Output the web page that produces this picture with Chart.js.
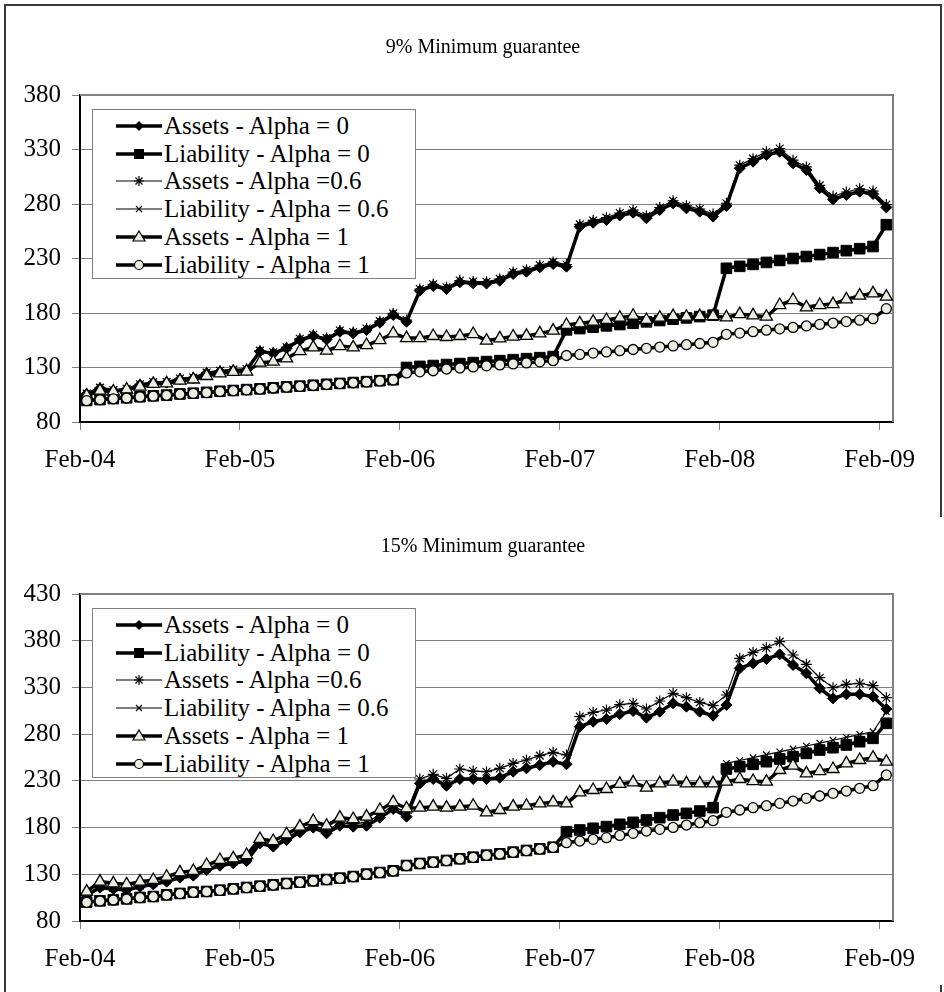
<!DOCTYPE html>
<html><head><meta charset="utf-8">
<script src="https://cdn.jsdelivr.net/npm/chart.js@4.4.1/dist/chart.umd.min.js"></script>
<style>
html,body{margin:0;padding:0;background:#fff;overflow:hidden;width:944px;height:992px;position:relative;}
.wrap{position:absolute;left:0;width:944px;height:499px;}
.frame{position:absolute;background:#3a3a3a;}
.legend{position:absolute;left:92px;top:109px;width:322px;height:168px;border:1px solid #808080;background:#fff;font-family:"Liberation Serif",serif;font-size:25px;color:#000;}
.row{position:absolute;left:0;width:320px;height:28px;line-height:28px;white-space:nowrap;}
.row svg{position:absolute;left:22px;top:0;}
.row span{position:absolute;left:71px;top:0;}
</style></head>
<body>
<div class="frame" style="left:4px;top:4px;width:2px;height:988px"></div>
<div class="frame" style="left:4px;top:4px;width:938px;height:2px"></div>
<div class="frame" style="left:940px;top:4px;width:2px;height:513px"></div>
<div class="frame" style="left:940px;top:985px;width:2px;height:7px"></div>

<div class="wrap" style="top:0"><canvas id="c9" width="944" height="499"></canvas><div class="legend" id="lg9"></div></div>
<div class="wrap" style="top:499px"><canvas id="c15" width="944" height="499"></canvas><div class="legend" id="lg15"></div></div>

<script>
// ---- data ----
const months = ['Feb-04','Feb-05','Feb-06','Feb-07','Feb-08','Feb-09'];
const seriesNames = ['Assets - Alpha = 0','Liability - Alpha = 0','Assets - Alpha =0.6','Liability - Alpha = 0.6','Assets - Alpha = 1','Liability - Alpha = 1'];
const titles = ['9% Minimum guarantee','15% Minimum guarantee'];
const yTicks9 = [80,130,180,230,280,330,380];
const yTicks15 = [80,130,180,230,280,330,380,430];

// 9% chart
const assetsA0_9 = [105.7,110.9,108.7,109.9,114.0,116.1,116.1,119.2,120.1,124.7,126.3,127.2,
 127.8,144.6,143.0,147.6,155.2,158.9,155.8,162.8,161.3,164.4,171.1,178.2,
 172.0,200.5,204.8,202.0,208.2,207.2,207.0,209.6,215.8,217.9,221.9,225.0,
 222.5,259.2,262.8,265.3,269.5,272.0,266.9,274.5,280.6,276.0,273.0,268.4,
 278.2,312.8,318.8,325.0,328.0,317.3,311.2,294.4,284.3,288.3,291.3,289.2,
 276.9];
const liabA0_9 = [99.8,100.6,101.5,102.2,103.2,104.0,104.7,105.7,106.4,107.2,108.2,108.9,
 109.7,110.4,111.4,112.2,112.9,113.7,114.6,115.4,116.2,117.0,117.9,118.8,
 130.0,131.0,131.8,132.7,133.6,134.5,135.4,136.3,137.2,138.1,139.0,140.0,
 164.5,165.7,167.0,168.2,169.4,170.6,171.9,173.1,174.3,175.5,176.7,178.0,
 221.0,222.8,224.6,226.4,228.2,230.0,231.8,233.6,235.4,237.2,239.0,241.0,
 261.0];
const assetsA06_9 = [106.2,111.5,109.2,110.5,114.6,116.7,116.8,119.9,120.8,125.4,127.0,128.0,
 128.6,145.5,144.0,148.6,156.3,160.0,157.0,164.0,162.6,165.7,172.5,179.6,
 173.5,202.0,206.3,203.6,209.8,208.9,208.7,211.3,217.6,219.7,223.8,226.9,
 224.5,261.3,264.9,267.5,271.7,274.3,269.2,276.8,283.0,278.4,275.4,270.8,
 280.7,315.6,321.6,327.9,330.9,320.2,314.0,297.1,287.0,291.0,294.0,291.9,
 279.5];
const liabA06_9 = [99.8,100.6,101.5,102.2,103.2,104.0,104.7,105.7,106.4,107.2,108.2,108.9,
 109.7,110.4,111.4,112.2,112.9,113.7,114.6,115.4,116.2,117.0,117.9,118.8,
 130.0,131.0,131.8,132.7,133.6,134.5,135.4,136.3,137.2,138.1,139.0,140.0,
 164.5,165.7,167.0,168.2,169.4,170.6,171.9,173.1,174.3,175.5,176.7,178.0,
 221.0,222.8,224.6,226.4,228.2,230.0,231.8,233.6,235.4,237.2,239.0,241.0,
 261.0];
const assetsA1_9 = [104.2,108.7,108.0,109.8,112.4,114.9,115.5,117.9,119.0,122.2,124.7,125.9,
 126.3,134.4,135.3,138.4,145.1,148.5,145.4,149.7,148.5,150.6,155.2,161.3,
 157.0,157.0,158.9,158.0,158.9,160.7,154.6,156.7,158.4,159.0,161.3,163.8,
 169.0,170.5,172.0,173.6,175.7,177.5,173.6,175.7,177.2,176.6,177.2,177.2,
 176.0,179.0,177.8,176.6,187.3,191.9,185.2,187.3,188.2,192.5,195.9,198.0,
 195.0];
const liabA1_9 = [99.6,100.4,101.3,102.0,103.0,103.8,104.5,105.5,106.2,107.0,108.0,108.7,
 109.5,110.2,111.2,112.0,112.7,113.5,114.4,115.2,116.0,116.8,117.7,118.6,
 125.0,126.0,127.0,128.6,129.5,130.5,131.5,132.4,133.3,134.2,135.2,136.3,
 141.0,142.0,143.2,144.3,145.4,146.5,147.6,148.7,149.8,150.9,152.0,153.1,
 160.4,161.6,162.9,164.2,165.5,166.8,168.1,169.5,170.8,172.1,173.4,174.8,
 184.0];

// 15% chart
const assetsA0_15 = [107.8,115.7,114.2,113.2,116.7,119.2,122.1,126.4,128.5,134.6,139.2,141.7,
 144.2,163.1,159.6,166.7,174.9,179.9,173.8,182.0,181.0,182.0,190.6,199.9,
 191.7,227.3,232.0,224.8,232.0,232.0,232.0,233.4,239.8,243.4,247.0,250.5,
 247.7,288.0,293.3,296.2,301.4,304.8,297.6,304.0,313.0,309.4,304.0,299.8,
 311.2,350.4,355.8,360.4,365.4,354.0,345.1,329.0,318.3,322.6,322.6,320.1,
 306.9];
const liabA0_15 = [100.2,101.6,102.7,103.7,105.2,106.2,108.0,109.5,110.9,111.6,113.0,114.4,
 115.9,117.3,118.7,120.2,121.6,123.0,124.4,125.9,127.6,130.2,131.9,133.7,
 139.4,141.6,143.0,144.8,146.6,148.3,150.5,151.9,153.7,155.5,157.2,159.0,
 175.6,177.4,179.2,181.0,183.5,185.6,188.1,190.6,193.4,195.2,197.7,201.3,
 242.7,245.2,247.7,250.5,253.4,255.9,259.4,263.0,265.5,268.4,271.9,275.5,
 291.6];
const assetsA06_15 = [108.5,117.0,115.5,114.5,118.0,120.5,123.5,128.0,130.0,136.5,141.0,143.5,
 146.0,165.5,162.0,169.0,177.5,182.5,176.5,185.0,184.0,185.5,194.0,203.5,
 195.5,232.0,237.0,232.7,242.7,240.5,239.8,243.4,248.7,252.3,257.0,260.5,
 257.7,298.7,303.4,305.8,311.5,313.0,306.9,315.5,323.7,319.0,314.0,310.5,
 321.9,361.1,367.5,372.5,379.0,364.7,354.7,340.4,329.7,333.3,334.4,331.9,
 319.0];
const liabA06_15 = [100.2,101.6,102.7,103.7,105.2,106.2,108.0,109.5,110.9,111.6,113.0,114.4,
 115.9,117.3,118.7,120.2,121.6,123.0,124.4,125.9,127.6,130.2,131.9,133.7,
 139.4,141.6,143.0,144.8,146.6,148.3,150.5,151.9,153.7,155.5,157.2,159.0,
 175.6,177.4,179.2,181.0,183.5,185.6,188.1,190.6,193.4,195.2,197.7,201.3,
 248.7,251.8,254.9,258.0,261.1,264.2,267.3,270.4,273.5,276.6,279.7,282.6,
 304.0];
const assetsA1_15 = [111.4,122.1,120.3,119.2,122.1,123.9,127.4,132.1,133.5,139.9,145.3,147.1,
 150.6,167.8,165.6,172.8,181.0,187.0,182.0,190.6,189.0,191.7,198.8,207.0,
 200.6,201.3,202.4,201.3,202.4,203.4,196.3,198.8,202.4,203.4,205.9,207.0,
 205.9,217.7,220.2,221.3,226.8,228.4,222.7,227.3,229.1,227.3,227.3,227.3,
 229.1,232.0,229.8,229.1,241.6,246.2,238.0,240.5,242.7,248.7,252.3,254.8,
 250.5];
const liabA1_15 = [100.0,101.4,102.5,103.5,105.0,106.0,107.8,109.3,110.7,111.4,112.8,114.2,
 115.7,117.1,118.5,120.0,121.4,122.8,124.2,125.7,127.4,130.0,131.7,133.5,
 139.2,141.4,142.8,144.6,146.4,148.1,150.3,151.7,153.5,155.3,157.0,158.8,
 163.8,165.6,167.4,169.2,171.6,173.8,176.3,178.1,180.2,182.7,185.2,187.4,
 196.3,198.8,201.3,203.4,205.9,208.4,211.3,213.8,216.6,219.1,222.0,224.8,
 236.3];

// ---- styles ----
const LIGHT = '#ecece0';
const styles = [
  {borderWidth:3.5, pointStyle:'rectRot', pointRadius:5.5, bg:'#000', pbw:1},
  {borderWidth:3.5, pointStyle:'rect', pointRadius:7.5, bg:'#000', pbw:1},
  {borderWidth:1.2, pointStyle:'star', pointRadius:5.5, bg:'#000', pbw:1.2},
  {borderWidth:1.2, pointStyle:'crossRot', pointRadius:4.5, bg:'#000', pbw:1.2},
  {borderWidth:3.5, pointStyle:'triangle', pointRadius:7, bg:LIGHT, pbw:1.3},
  {borderWidth:3.5, pointStyle:'circle', pointRadius:5, bg:LIGHT, pbw:1.3}
];

function toXY(arr){ return arr.map((v,i)=>({x:i, y:v})); }

const titlePlugin = {
  id:'titleText',
  afterDraw(chart, args, opts){
    const ctx = chart.ctx; ctx.save();
    ctx.font = '20px "Liberation Serif"'; ctx.fillStyle = '#000';
    ctx.textAlign = 'center'; ctx.textBaseline = 'middle';
    ctx.fillText(opts.text, 483, 48); ctx.restore();
  }
};
const borderPlugin = {
  id:'plotBorder',
  beforeDatasetsDraw(chart){
    const a = chart.chartArea, ctx = chart.ctx; ctx.save();
    ctx.strokeStyle = '#808080'; ctx.lineWidth = 2;
    ctx.beginPath(); ctx.moveTo(a.left, a.top); ctx.lineTo(a.right, a.top); ctx.lineTo(a.right, a.bottom); ctx.stroke();
    ctx.restore();
  }
};

function makeChart(id, series, yTicks, title){
  const datasets = series.map((arr,k)=>({
    label: seriesNames[k],
    data: toXY(arr),
    borderColor:'#000',
    borderWidth: styles[k].borderWidth,
    pointStyle: styles[k].pointStyle,
    pointRadius: styles[k].pointRadius,
    pointBackgroundColor: styles[k].bg,
    pointBorderColor:'#000',
    pointBorderWidth: styles[k].pbw,
    tension:0,
    order: 6-k,
    clip: 10
  }));
  return new Chart(document.getElementById(id), {
    type:'line',
    data:{datasets},
    plugins:[titlePlugin, borderPlugin],
    options:{
      responsive:false, animation:false,
      layout:{padding:{top:95, right:51, bottom:0, left:0}},
      plugins:{legend:{display:false}, tooltip:{enabled:false}, titleText:{text:title}},
      scales:{
        x:{type:'linear', min:-0.5, max:60.5,
           afterFit(s){ s.height = 77; },
           afterBuildTicks(s){ s.ticks = months.map((m,k)=>({value:-0.5+12*k})); },
           ticks:{autoSkip:false, maxRotation:0, padding:15, color:'#000',
                  font:{family:'Liberation Serif', size:25},
                  callback:(v,i)=>months[i]},
           grid:{drawOnChartArea:false, drawTicks:true, tickLength:8, color:'#808080'},
           border:{display:true, color:'#000', width:2}},
        y:{type:'linear', min:yTicks[0], max:yTicks[yTicks.length-1],
           afterFit(s){ s.width = 80; },
           afterBuildTicks(s){ s.ticks = yTicks.map(v=>({value:v})); },
           ticks:{padding:11, color:'#000', font:{family:'Liberation Serif', size:25}},
           grid:{color:'#808080', lineWidth:1, tickLength:8, drawTicks:true},
           border:{display:true, color:'#000', width:2}}
      }
    }
  });
}

makeChart('c9', [assetsA0_9, liabA0_9, assetsA06_9, liabA06_9, assetsA1_9, liabA1_9], yTicks9, titles[0]);
makeChart('c15', [assetsA0_15, liabA0_15, assetsA06_15, liabA06_15, assetsA1_15, liabA1_15], yTicks15, titles[1]);

// ---- legends (HTML) ----
function markerSVG(k){
  const cx = 24, cy = 14;
  let m = '';
  if(k===0) m = `<polygon points="${cx},${cy-5} ${cx+5},${cy} ${cx},${cy+5} ${cx-5},${cy}" fill="#000"/>`;
  if(k===1) m = `<rect x="${cx-5}" y="${cy-5}" width="10" height="10" fill="#000"/>`;
  if(k===2) m = `<path d="M${cx-5} ${cy}H${cx+5}M${cx} ${cy-5}V${cy+5}M${cx-3.5} ${cy-3.5}L${cx+3.5} ${cy+3.5}M${cx-3.5} ${cy+3.5}L${cx+3.5} ${cy-3.5}" stroke="#000" stroke-width="1.2"/>`;
  if(k===3) m = `<path d="M${cx-3} ${cy-3}L${cx+3} ${cy+3}M${cx-3} ${cy+3}L${cx+3} ${cy-3}" stroke="#000" stroke-width="1.2"/>`;
  if(k===4) m = `<polygon points="${cx},${cy-6} ${cx+6},${cy+4} ${cx-6},${cy+4}" fill="${LIGHT}" stroke="#000" stroke-width="1.2"/>`;
  if(k===5) m = `<circle cx="${cx}" cy="${cy}" r="4.5" fill="${LIGHT}" stroke="#000" stroke-width="1.2"/>`;
  const lw = styles[k].borderWidth;
  return `<svg width="48" height="28"><line x1="1" y1="${cy}" x2="47" y2="${cy}" stroke="#000" stroke-width="${lw}"/>${m}</svg>`;
}
function buildLegend(id){
  const el = document.getElementById(id);
  seriesNames.forEach((n,k)=>{
    const r = document.createElement('div');
    r.className = 'row';
    r.style.top = (2 + 27.7*k) + 'px';
    r.innerHTML = markerSVG(k) + '<span></span>';
    r.querySelector('span').textContent = n;
    el.appendChild(r);
  });
}
buildLegend('lg9'); buildLegend('lg15');
</script>
</body></html>
